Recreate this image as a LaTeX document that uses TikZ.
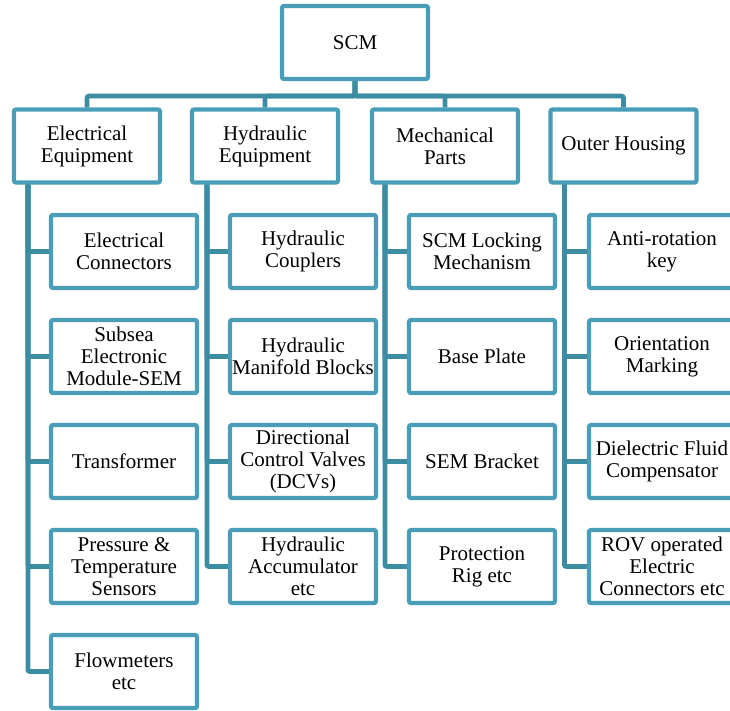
\documentclass[tikz,border=0pt]{standalone}
\usepackage{fontspec}
\setmainfont{Liberation Serif}
\usepackage{xcolor}
\usepackage{tikz}
\usetikzlibrary{positioning,calc}

\definecolor{boxblue}{RGB}{74,157,182}
\definecolor{linkblue}{RGB}{60,140,162}

\begin{document}
\begin{tikzpicture}[x=1pt,y=-1pt,
    box/.style={draw=boxblue, line width=4.2pt, rounded corners=2pt, fill=white,
        minimum width=146pt, minimum height=73pt, inner sep=1pt, align=center,
        font=\fontsize{21}{22}\selectfont},
    link/.style={draw=linkblue, line width=4.8pt, rounded corners=2pt}]
    \clip (0,0) rectangle (730,711);

    % top
    \node [box] (scm) at (355,42.5) {SCM};

    % main groups
    \node [box] (elec) at (87,146) {Electrical\\Equipment};
    \node [box] (hyd) at (265,146) {Hydraulic\\Equipment};
    \node [box] (mech) at (445,146) {Mechanical\\Parts};
    \node [box] (outer) at (623.5,146) {Outer Housing};
    \foreach \g in {elec,hyd,mech,outer}
        \draw [link] (scm.south) -- ++(0,15) -| (\g.north);

    % Electrical Equipment
    \node [box] (e1) at (124,251.5) {Electrical\\Connectors};
    \node [box] (e2) at (124,356.5) {Subsea\\Electronic\\Module-SEM};
    \node [box] (e3) at (124,461.5) {Transformer};
    \node [box] (e4) at (124,566.5) {Pressure \&\\Temperature\\Sensors};
    \node [box] (e5) at (124,671.5) {Flowmeters\\etc};

    % Hydraulic Equipment
    \node [box] (h1) at (303,251.5) {Hydraulic\\Couplers};
    \node [box] (h2) at (303,356.5) {Hydraulic\\Manifold Blocks};
    \node [box] (h3) at (303,461.5) {Directional\\Control Valves\\(DCVs)};
    \node [box] (h4) at (303,566.5) {Hydraulic\\Accumulator\\etc};

    % Mechanical Parts
    \node [box] (m1) at (482,251.5) {SCM Locking\\Mechanism};
    \node [box] (m2) at (482,356.5) {Base Plate};
    \node [box] (m3) at (482,461.5) {SEM Bracket};
    \node [box] (m4) at (482,566.5) {Protection\\Rig etc};

    % Outer Housing
    \node [box] (o1) at (662,251.5) {Anti-rotation\\key};
    \node [box] (o2) at (662,356.5) {Orientation\\Marking};
    \node [box] (o3) at (662,461.5) {Dielectric Fluid\\Compensator};
    \node [box] (o4) at (662,566.5) {ROV operated\\Electric\\Connectors etc};

    % branches
    \foreach \c in {e1,e2,e3,e4,e5}
        \draw [link] ([xshift=16pt]elec.south west) |- (\c.west);
    \foreach \c in {h1,h2,h3,h4}
        \draw [link] ([xshift=17pt]hyd.south west) |- (\c.west);
    \foreach \c in {m1,m2,m3,m4}
        \draw [link] ([xshift=15pt]mech.south west) |- (\c.west);
    \foreach \c in {o1,o2,o3,o4}
        \draw [link] ([xshift=16pt]outer.south west) |- (\c.west);
\end{tikzpicture}
\end{document}
